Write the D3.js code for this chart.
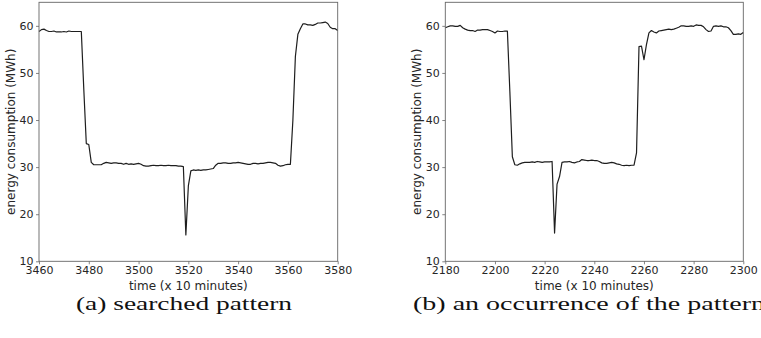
<!DOCTYPE html>
<html>
<head>
<meta charset="utf-8">
<script src="https://cdn.jsdelivr.net/npm/d3@7"></script>
<style>
  body { margin: 0; background: #fff; }
  svg { display: block; }
</style>
</head>
<body>
<div id="chart"></div>
<script>
// time axis ticks
var ticksA = [3460, 3480, 3500, 3520, 3540, 3560, 3580];
var ticksB = [2180, 2200, 2220, 2240, 2260, 2280, 2300];
var yTicks = [10, 20, 30, 40, 50, 60];

// first time step of each series (one value per 10 minutes)
var startA = 3460;
var startB = 2180;

// (a) searched pattern
var valuesA = [
  58.8, 59.2, 59.3, 59.0, 58.8, 58.8, 58.9, 58.7, 58.7, 58.7,
  58.8, 58.7, 58.9, 58.8, 58.8, 58.8, 58.8, 58.8, 46.5, 35.0,
  34.8, 31.0, 30.5, 30.5, 30.5, 30.5, 30.8, 31.0, 30.9, 30.8,
  30.9, 30.9, 30.8, 30.8, 30.6, 30.8, 30.6, 30.7, 30.6, 30.7,
  30.8, 30.6, 30.3, 30.2, 30.2, 30.3, 30.4, 30.3, 30.3, 30.4,
  30.3, 30.3, 30.4, 30.3, 30.3, 30.3, 30.2, 30.2, 30.1, 15.6,
  26.0, 29.2, 29.4, 29.3, 29.4, 29.3, 29.4, 29.4, 29.5, 29.6,
  29.7, 30.4, 30.8, 30.8, 30.9, 30.9, 30.8, 30.8, 30.9, 30.9,
  31.0, 30.9, 30.8, 30.7, 30.6, 30.6, 30.8, 30.8, 30.7, 30.8,
  30.8, 30.9, 31.0, 31.0, 30.9, 30.8, 30.4, 30.2, 30.3, 30.5,
  30.6, 30.6, 40.0, 53.5, 58.2, 59.4, 60.4, 60.4, 60.2, 60.2,
  60.1, 60.3, 60.6, 60.6, 60.7, 60.8, 60.5, 59.7, 59.4, 59.4,
  59.0
];

// (b) an occurrence of the pattern
var valuesB = [
  59.6, 59.8, 60.0, 60.0, 59.9, 59.9, 60.1, 59.6, 59.3, 59.1,
  59.0, 59.0, 58.8, 59.1, 59.1, 59.2, 59.2, 59.2, 59.0, 58.8,
  58.5, 58.9, 58.8, 58.8, 58.9, 58.9, 46.0, 32.2, 30.5, 30.4,
  30.7, 30.9, 31.0, 31.0, 31.0, 31.1, 31.0, 31.2, 31.1, 31.0,
  31.1, 31.1, 31.1, 31.2, 16.0, 26.4, 28.0, 31.0, 31.1, 31.1,
  31.2, 31.0, 30.9, 31.1, 31.2, 31.6, 31.5, 31.4, 31.4, 31.5,
  31.4, 31.4, 31.2, 30.9, 30.8, 30.8, 30.9, 31.0, 30.9, 30.7,
  30.6, 30.4, 30.3, 30.4, 30.3, 30.4, 30.4, 33.0, 55.6, 55.7,
  52.8, 56.0, 58.5, 59.0, 58.7, 58.5, 58.9, 59.0, 59.1, 59.2,
  59.3, 59.2, 59.3, 59.5, 59.7, 60.0, 60.0, 59.9, 59.9, 60.0,
  59.9, 60.2, 60.1, 60.1, 59.8, 59.2, 58.8, 58.9, 59.9, 60.0,
  59.9, 60.0, 59.8, 59.8, 59.6, 59.0, 58.2, 58.2, 58.3, 58.2,
  58.6
];

var captionA = "(a) searched pattern";
var captionB = "(b) an occurrence of the pattern";

var W = 761, H = 338;
var plotTop = 2.3, plotBottom = 261.3;
var font = "'DejaVu Sans', sans-serif";

var svg = d3.select("#chart").append("svg")
  .attr("width", W).attr("height", H);
svg.append("rect").attr("width", W).attr("height", H).attr("fill", "#fff");

//画一个子图
function drawPanel(left, right, start, values, ticks, ylabX, caption, capX, capLen) {
  var data = values.map(function (v, i) { return [start + i, v]; });
  var x = d3.scaleLinear().domain([ticks[0], ticks[ticks.length - 1]]).range([left, right]);
  var y = d3.scaleLinear().domain([10, 65]).range([plotBottom, plotTop]);
  var g = svg.append("g");

  var xAxis = g.append("g")
    .attr("transform", "translate(0," + plotBottom + ")")
    .call(d3.axisBottom(x).tickValues(ticks).tickSize(3).tickPadding(1.5).tickFormat(d3.format("d")));
  var yAxis = g.append("g")
    .attr("transform", "translate(" + left + ",0)")
    .call(d3.axisLeft(y).tickValues(yTicks).tickSize(3).tickPadding(2.5));
  [xAxis, yAxis].forEach(function (a) {
    a.select(".domain").remove();
    a.selectAll("line").attr("stroke", "#666").attr("stroke-width", 0.8);
    a.selectAll("text").attr("fill", "#262626").style("font-family", font).style("font-size", "11px");
  });

  g.append("path")
    .datum(data)
    .attr("fill", "none")
    .attr("stroke", "#1e1e1e")
    .attr("stroke-width", 1.2)
    .attr("stroke-linejoin", "round")
    .attr("d", d3.line().x(function (d) { return x(d[0]); }).y(function (d) { return y(d[1]); }));

  g.append("rect")
    .attr("x", left).attr("y", plotTop)
    .attr("width", right - left).attr("height", plotBottom - plotTop)
    .attr("fill", "none").attr("stroke", "#666").attr("stroke-width", 0.9);

  g.append("text")
    .attr("x", (left + right) / 2).attr("y", 290)
    .attr("text-anchor", "middle")
    .attr("fill", "#262626")
    .style("font-family", font).style("font-size", "12px")
    .text("time (x 10 minutes)");

  g.append("text")
    .attr("transform", "translate(" + ylabX + "," + ((plotTop + plotBottom) / 2) + ") rotate(-90)")
    .attr("text-anchor", "middle")
    .attr("dy", "0.35em")
    .attr("fill", "#262626")
    .style("font-family", font).style("font-size", "12px")
    .text("energy consumption (MWh)");

  g.append("text")
    .attr("x", capX).attr("y", 310)
    .attr("fill", "#111")
    .attr("textLength", capLen)
    .attr("lengthAdjust", "spacingAndGlyphs")
    .style("font-family", "'Liberation Serif', serif").style("font-size", "19px")
    .text(caption);
}

drawPanel(39, 337.7, startA, valuesA, ticksA, 10.5, captionA, 76, 216);
drawPanel(445.3, 743.3, startB, valuesB, ticksB, 416.5, captionB, 413, 352);
</script>
</body>
</html>
